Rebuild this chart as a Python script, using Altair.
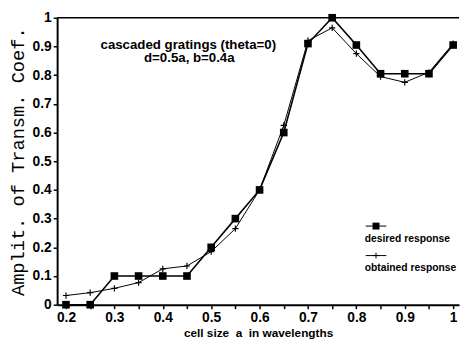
import altair as alt
import pandas as pd

cell_size = [0.2, 0.25, 0.3, 0.35, 0.4, 0.45, 0.5, 0.55, 0.6, 0.65, 0.7, 0.75, 0.8, 0.85, 0.9, 0.95, 1.0]
desired = [0.0, 0.0, 0.1, 0.1, 0.1, 0.1, 0.2, 0.3, 0.4, 0.6, 0.91, 1.0, 0.905, 0.805, 0.805, 0.805, 0.905]
obtained = [0.032, 0.042, 0.057, 0.077, 0.125, 0.135, 0.185, 0.265, 0.40, 0.625, 0.92, 0.965, 0.875, 0.795, 0.775, 0.81, 0.91]
x_ticks = [0.2, 0.25, 0.3, 0.35, 0.4, 0.45, 0.5, 0.55, 0.6, 0.65, 0.7, 0.75, 0.8, 0.85, 0.9, 0.95, 1.0]
y_ticks = [0, 0.1, 0.2, 0.3, 0.4, 0.5, 0.6, 0.7, 0.8, 0.9, 1]
annotation = ["cascaded gratings (theta=0)", "d=0.5a, b=0.4a"]
legend_labels = ["desired response", "obtained response"]

df_d = pd.DataFrame({"a": cell_size, "v": desired})
df_o = pd.DataFrame({"a": cell_size, "v": obtained})

W, H = 409, 292
FONT = "Liberation Sans"
PLUS = "M-1,0L1,0M0,-1L0,1"

xs = alt.Scale(domain=[0.1817, 1.0122], nice=False, zero=False)
ys = alt.Scale(domain=[0, 1], nice=False)

x_axis = alt.Axis(
    values=x_ticks,
    labelExpr="(round(datum.value*100) % 10 == 0) ? format(datum.value, '~g') : ''",
    labelOverlap=False,
    title="cell size\u00a0\u00a0a\u00a0\u00a0in wavelengths",
    titleFont=FONT, titleFontSize=12, titleFontWeight="bold", titleColor="black",
    titlePadding=3,
    labelFont=FONT, labelFontSize=14, labelFontWeight="bold", labelColor="black",
    labelPadding=2,
    domainColor="black", domainWidth=2, tickColor="black", tickSize=4, tickWidth=1.5,
    grid=False,
)
y_axis = alt.Axis(
    values=y_ticks,
    labelExpr="format(datum.value, '~g')",
    labelOverlap=False,
    title="Amplit. of Transm. Coef.",
    titleFont="Liberation Mono", titleFontSize=19, titleFontWeight="normal", titleColor="black",
    titlePadding=5,
    labelFont=FONT, labelFontSize=14, labelFontWeight="bold", labelColor="black",
    labelPadding=2,
    domainColor="black", domainWidth=2, tickColor="black", tickSize=4, tickWidth=1.5,
    grid=False,
)

X = lambda: alt.X("a:Q", scale=xs, axis=x_axis)
Y = lambda f: alt.Y(f, scale=ys, axis=y_axis)

line_d = alt.Chart(df_d).mark_line(color="black", strokeWidth=1.6).encode(x=X(), y=Y("v:Q"))
pts_d = alt.Chart(df_d).mark_point(shape="square", filled=True, color="black", size=60, opacity=1).encode(
    x=X(), y=Y("v:Q")
)
line_o = alt.Chart(df_o).mark_line(color="black", strokeWidth=1).encode(x=X(), y=Y("v:Q"))
pts_o = alt.Chart(df_o).mark_point(shape=PLUS, filled=False, color="black", size=40, strokeWidth=1.2, opacity=1).encode(
    x=X(), y=Y("v:Q")
)

top_rule = alt.Chart(pd.DataFrame({"v": [1]})).mark_rule(color="black", strokeWidth=1.5).encode(y=Y("v:Q"))


def text_layer(t, x, y, size, align):
    return alt.Chart(pd.DataFrame({"t": [t]})).mark_text(
        font=FONT, fontSize=size, fontWeight="bold", color="black", align=align, baseline="middle"
    ).encode(text="t:N", x=alt.value(x), y=alt.value(y))


ann1 = text_layer(annotation[0], 133.5, 27.5, 13.5, "center")
ann2 = text_layer(annotation[1], 134.5, 41.5, 13.5, "center")

one = pd.DataFrame({"k": [0]})
leg_line1 = alt.Chart(one).mark_rule(color="black", strokeWidth=1).encode(
    x=alt.value(314), x2=alt.value(335), y=alt.value(212)
)
leg_line2 = alt.Chart(one).mark_rule(color="black", strokeWidth=1).encode(
    x=alt.value(314), x2=alt.value(335), y=alt.value(242)
)
leg_sq = alt.Chart(one).mark_point(shape="square", filled=True, color="black", size=50, opacity=1).encode(
    x=alt.value(324.5), y=alt.value(212)
)
leg_cr = alt.Chart(one).mark_point(shape=PLUS, filled=False, color="black", size=35, strokeWidth=1, opacity=1).encode(
    x=alt.value(324.5), y=alt.value(242)
)
leg_t1 = text_layer(legend_labels[0], 313, 225, 10.5, "left")
leg_t2 = text_layer(legend_labels[1], 313, 255, 10.5, "left")

chart = alt.layer(
    line_d, top_rule, line_o, pts_o, pts_d, ann1, ann2,
    leg_line1, leg_line2, leg_sq, leg_cr, leg_t1, leg_t2
).properties(
    width=W, height=H,
    padding={"left": 50, "top": 7, "right": 3, "bottom": 34},
    autosize=alt.AutoSizeParams(type="none"),
    background="white",
).configure_view(stroke=None)

chart.save("out.html", embed_options={"renderer": "svg", "actions": False})
